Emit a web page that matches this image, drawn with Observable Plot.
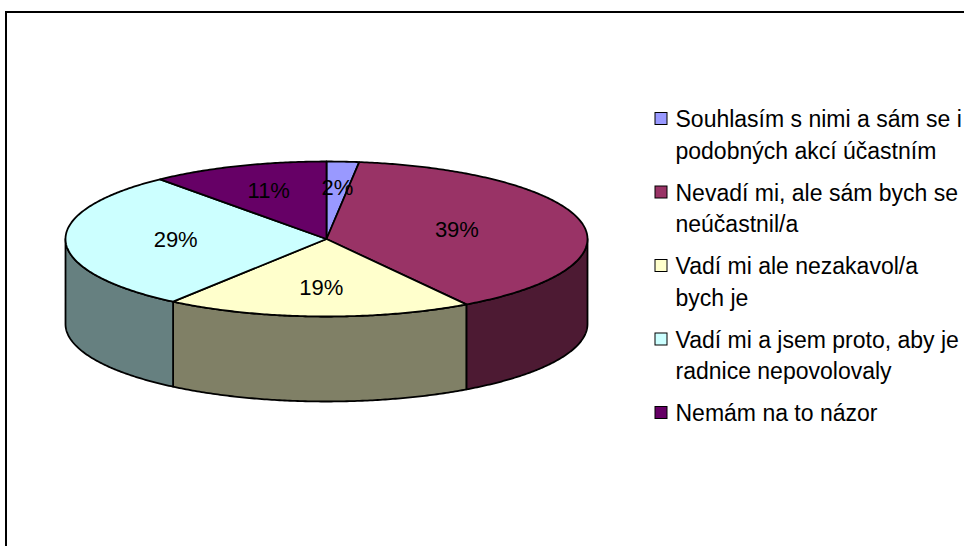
<!DOCTYPE html>
<html><head><meta charset="utf-8">
<script src="https://cdn.jsdelivr.net/npm/d3@7"></script>
<script src="https://cdn.jsdelivr.net/npm/@observablehq/plot@0.6"></script>
<style>
body{margin:0;background:#fff;}
#wrap{position:relative;width:964px;height:546px;overflow:hidden;background:#fff;}
#chart{position:absolute;left:0;top:0;}
#frame{position:absolute;left:5px;top:11px;width:1200px;height:800px;border:2px solid #000;pointer-events:none;}
</style></head><body>
<div id="wrap"><div id="chart"></div><div id="frame"></div></div>
<script>
// ---- data ----
const categories = [
  "Souhlasím s nimi a sám se i\npodobných akcí účastním",
  "Nevadí mi, ale sám bych se\nneúčastnil/a",
  "Vadí mi ale nezakavol/a\nbych je",
  "Vadí mi a jsem proto, aby je\nradnice nepovolovaly",
  "Nemám na to názor"
];
const shares = [2, 39, 19, 29, 11];
const shareLabels = ["2%", "39%", "19%", "29%", "11%"];
const colors = ["#9999FF", "#993366", "#FFFFCC", "#CCFFFF", "#660066"];

// ---- layout ----
const W = 964, H = 546;
const cx = 326, cy = 238.5, rx = 261, ry = 77.5, depth = 85;
const font = "Liberation Sans, Arial, sans-serif";
const fs = 22, lfs = 23;

const arcs = d3.pie().sort(null).value(d => d)(shares);
const px = a => cx + rx * Math.sin(a);
const py = a => cy - ry * Math.cos(a);
function arcPts(a0, a1, dy = 0) {
  const n = Math.max(2, Math.ceil((a1 - a0) / 0.01));
  return d3.range(n + 1).map(i => {
    const a = a0 + (a1 - a0) * i / n;
    return {x: px(a), y: py(a) + dy};
  });
}
const darker = c => { const r = d3.rgb(c); return d3.rgb(r.r * 0.5, r.g * 0.5, r.b * 0.5).formatHex(); };

const marks = [];
// visible sides (front half)
arcs.forEach((a, i) => {
  const a0 = Math.max(a.startAngle, Math.PI / 2), a1 = Math.min(a.endAngle, 3 * Math.PI / 2);
  if (a1 <= a0) return;
  const top = arcPts(a0, a1);
  const bot = arcPts(a0, a1, depth).reverse();
  const pts = [...top, ...bot, top[0]];
  marks.push(Plot.line(pts, {x: "x", y: "y", fill: darker(colors[i]), stroke: "black", strokeWidth: 1.8, strokeLinejoin: "round"}));
});
// top faces
arcs.forEach((a, i) => {
  const pts = [{x: cx, y: cy}, ...arcPts(a.startAngle, a.endAngle), {x: cx, y: cy}];
  marks.push(Plot.line(pts, {x: "x", y: "y", fill: colors[i], stroke: "black", strokeWidth: 1.8, strokeLinejoin: "round"}));
});
// slice labels at sector centroids
const labelData = arcs.map((a, i) => {
  const half = (a.endAngle - a.startAngle) / 2;
  const f = 2 * Math.sin(half) / (3 * half);
  const mid = (a.startAngle + a.endAngle) / 2;
  return {x: cx + rx * f * Math.sin(mid), y: cy - ry * f * Math.cos(mid), text: shareLabels[i]};
});
marks.push(Plot.text(labelData, {x: "x", y: "y", text: "text", fontSize: fs, fontFamily: font, fill: "black"}));

// legend
const lgX = 655, lgS = 12, lgTop = 118.5, lgStep = 73.5, lh = 31.5 / lfs;
const legend = categories.map((c, i) => ({label: c, color: colors[i], yc: lgTop + i * lgStep}));
marks.push(Plot.rect(legend, {x1: () => lgX, x2: () => lgX + lgS, y1: d => d.yc - lgS / 2, y2: d => d.yc + lgS / 2, fill: "color", stroke: "black", strokeWidth: 1}));
marks.push(Plot.text(legend, {
  x: () => lgX + 20,
  y: d => d.yc + 0.355 * lfs - 0.71 * lh * lfs,
  text: "label", textAnchor: "start", lineAnchor: "top", lineHeight: lh,
  fontSize: lfs, fontFamily: font, fill: "black"
}));

const chart = Plot.plot({
  width: W, height: H, margin: 0,
  x: {domain: [0, W], range: [0, W], axis: null},
  y: {domain: [0, H], range: [0, H], axis: null},
  color: {type: "identity"},
  style: {fontFamily: font, background: "transparent"},
  marks
});
document.getElementById("chart").appendChild(chart);
</script>
</body></html>
